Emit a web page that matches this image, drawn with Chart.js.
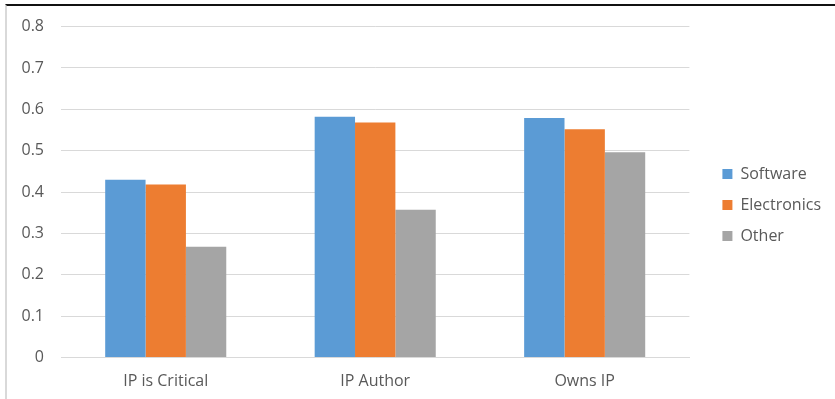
<!DOCTYPE html>
<html>
<head>
<meta charset="utf-8">
<script src="https://cdn.jsdelivr.net/npm/chart.js@4/dist/chart.umd.min.js"></script>
<style>
    html, body { margin: 0; padding: 0; background: #fff; }
    #wrap { position: absolute; left: 0; top: 0; width: 835px; height: 399px; }
    #frame {
        position: absolute; left: 5px; top: 4px; right: 0; bottom: 0;
        border-top: 2px solid #111; border-left: 2px solid #d9d9d9;
        pointer-events: none;
    }
</style>
</head>
<body>
<div id="wrap">
    <canvas id="myChart"></canvas>
    <div id="frame"></div>
</div>
<script>
var categories = ["IP is Critical", "IP Author", "Owns IP"];
var software = [0.43, 0.582, 0.579];
var electronics = [0.418, 0.568, 0.552];
var other = [0.268, 0.357, 0.496];
var yTicks = [0, 0.1, 0.2, 0.3, 0.4, 0.5, 0.6, 0.7, 0.8];

var textColor = "#595959";
var fontFamily = "'Open Sans', 'Noto Sans', sans-serif";

var ctx = document.getElementById("myChart");
var data_arr = {
    labels: categories,
    datasets: [{
        label: "Software",
        data: software,
        backgroundColor: "#5b9bd5"
    }, {
        label: "Electronics",
        data: electronics,
        backgroundColor: "#ed7d31"
    }, {
        label: "Other",
        data: other,
        backgroundColor: "#a5a5a5"
    }]
};
var options = {
    responsive: true,
    maintainAspectRatio: false,
    animation: false,
    layout: {
        padding: { left: 0, top: 24, right: 4, bottom: 13 }
    },
    datasets: {
        bar: { categoryPercentage: 0.578, barPercentage: 1.0 }
    },
    plugins: {
        tooltip: { enabled: false },
        legend: {
            position: "right",
            labels: {
                boxWidth: 10,
                boxHeight: 10,
                padding: 15,
                color: textColor,
                font: { family: fontFamily, size: 16 }
            }
        }
    },
    scales: {
        x: {
            grid: { display: false, drawTicks: false },
            border: { display: true, color: "#d9d9d9", width: 1 },
            ticks: {
                color: textColor,
                padding: 14,
                font: { family: fontFamily, size: 16 }
            },
            afterFit: function (axis) { axis.height = 28.5; }
        },
        y: {
            min: 0,
            max: 0.8,
            afterBuildTicks: function (axis) {
                axis.ticks = yTicks.map(function (v) { return { value: v }; });
            },
            grid: { color: "#d9d9d9", drawTicks: false },
            border: { display: false },
            ticks: {
                color: textColor,
                padding: 17,
                font: { family: fontFamily, size: 16 },
                callback: function (v) { return String(Math.round(v * 10) / 10); }
            },
            afterFit: function (axis) { axis.width = 61; }
        },
        gap: {
            type: "linear",
            position: "right",
            display: true,
            grid: { display: false, drawTicks: false },
            border: { display: false },
            ticks: { display: false },
            afterFit: function (axis) { axis.width = 18; }
        }
    }
};
var firstDiagram = new Chart(ctx, {
    type: "bar",
    data: data_arr,
    options: options
});
</script>
</body>
</html>
